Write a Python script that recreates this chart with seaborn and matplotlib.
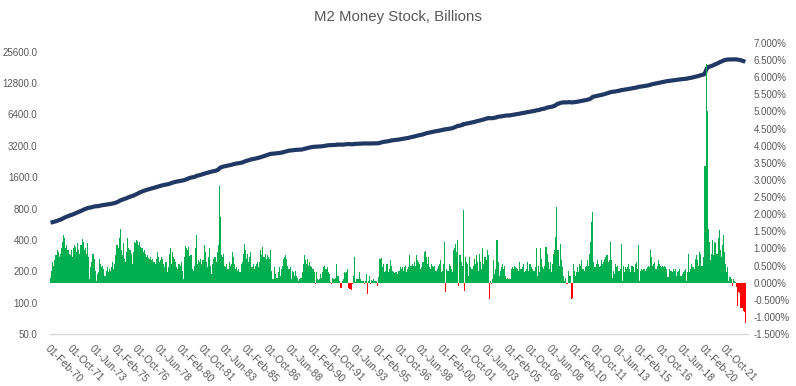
import numpy as np
import pandas as pd
import matplotlib
matplotlib.use("Agg")
import matplotlib.pyplot as plt
from matplotlib.ticker import FixedLocator, FuncFormatter, NullLocator
import seaborn as sns

title = "M2 Money Stock, Billions"
base_level = 586.0  # level before the first monthly change (Jan 1970), billions

# Monthly % change of M2, Feb 1970 .. Dec 1979 (one row per calendar year)
pct_1970s = [
    0.15, 0.35, 0.6, 0.5, 0.65, 0.8, 0.95, 0.9, 0.75, 0.85, 1.0,
    1.2, 1.38, 1.3, 1.0, 1.1, 0.95, 0.85, 0.8, 0.95, 0.75, 1.0, 1.1,
    1.05, 0.9, 1.15, 0.95, 0.85, 1.1, 1.28, 1.2, 0.95, 1.0, 0.85, 1.15,
    0.75, 0.1, 0.45, 0.6, 0.85, 0.7, 0.35, 0.06, 0.25, 0.3, 0.7, 0.55,
    0.45, 0.5, 0.4, 0.2, 0.35, 0.45, 0.3, 0.4, 0.35, 0.45, 0.6, 0.4,
    0.55, 0.8, 1.1, 1.0, 1.3, 1.58, 0.95, 0.8, 1.15, 0.7, 0.6, 0.9,
    1.31, 1.0, 0.94, 0.85, 0.55, 0.9, 1.2, 1.15, 1.25, 1.22, 1.1, 1.2,
    1.05, 1.0, 0.9, 0.95, 0.85, 0.75, 0.8, 0.72, 0.7, 0.75, 0.65, 0.7,
    0.6, 0.55, 0.7, 0.9, 0.75, 0.6, 0.65, 0.75, 0.7, 0.55, 0.45, 0.6,
    0.3, 0.45, 0.85, 1.0, 0.55, 0.9, 0.75, 0.7, 0.6, 0.45, 0.4, 0.55,
]
pct_1980s = [
    0.5, 0.6, 0.35, 0.1, 0.75, 1.08, 1.0, 0.95, 1.05, 0.77, 0.8, 0.4,
    0.35, 0.5, 1.0, 1.38, 0.55, 0.65, 0.6, 0.7, 0.55, 0.65, 1.09, 0.9,
    0.6, 0.45, 0.75, 1.0, 0.5, 0.25, 0.55, 0.7, 0.75, 0.6, 0.9, 1.1,
    2.82, 1.92, 0.8, 0.75, 0.85, 0.5, 0.45, 0.55, 0.4, 0.6, 0.5, 0.55,
    0.9, 0.75, 0.55, 0.4, 0.45, 0.35, 0.4, 0.3, 0.55, 0.6, 0.85, 1.14,
    0.95, 0.7, 0.84, 0.6, 0.75, 0.9, 0.45, 0.55, 0.4, 0.5, 0.55, 0.6,
    0.45, 0.6, 0.94, 0.8, 1.04, 0.75, 0.85, 0.7, 0.8, 0.75, 0.7, 0.94,
    0.35, 0.1, 0.1, 0.45, 0.25, 0.15, 0.3, 0.45, 0.2, 0.4, 0.5, 0.7,
    0.75, 0.8, 0.7, 0.5, 0.4, 0.45, 0.1, 0.35, 0.3, 0.2, 0.35, 0.2,
    0.15, 0.06, 0.1, 0.15, 0.3, 0.55, 0.8, 0.65, 0.55, 0.7, 0.5, 0.6,
]
pct_1990s = [
    0.5, 0.45, 0.4, 0.3, -0.04, 0.3, 0.1, 0.08, 0.1, 0.25, 0.15, 0.3,
    0.45, 0.5, 0.4, 0.45, 0.3, 0.25, 0.01, -0.04, 0.15, 0.12, 0.12, 0.15,
    0.55, 0.2, 0.05, -0.16, -0.16, 0.05, 0.1, 0.3, 0.28, 0.3, 0.4, -0.15,
    -0.2, -0.22, -0.05, 0.2, 0.75, 0.01, 0.1, 0.12, 0.1, 0.3, 0.12, 0.06,
    0.06, -0.04, 0.05, 0.24, -0.33, 0.05, 0.2, -0.05, 0.08, 0.06, 0.1, 0.04,
    0.05, -0.09, 0.16, 0.7, 0.7, 0.72, 0.45, 0.55, 0.3, 0.35, 0.55, 0.3,
    0.4, 0.67, 0.5, 0.35, 0.3, 0.28, 0.32, 0.3, 0.25, 0.35, 0.45, 0.4,
    0.45, 0.35, 0.45, 0.5, 0.3, 0.4, 0.45, 0.82, 0.5, 0.55, 0.5, 0.6,
    0.5, 0.8, 0.65, 0.6, 0.55, 0.4, 0.45, 0.6, 0.9, 0.92, 0.75, 0.55,
    0.75, 0.45, 0.4, 0.55, 0.5, 0.45, 0.5, 0.35, 0.4, 0.5, 0.55, 0.65,
]
pct_2000s = [
    0.3, 0.35, 0.55, 1.18, -0.28, 0.4, 0.35, 0.55, 0.5, 0.4, 0.3, 0.94,
    1.0, 1.14, 0.9, 1.24, -0.09, 0.8, 0.6, 0.5, 2.12, -0.24, 0.75, 0.6,
    0.55, 0.2, 0.75, 0.45, 0.4, 0.5, 0.7, 0.55, 0.8, 0.6, 0.35, 0.84,
    0.6, 0.4, 1.0, 0.55, 0.75, 0.65, 0.94, 0.8, -0.48, 0.05, -0.05, 0.1,
    0.65, 0.25, 0.4, 1.24, 0.6, 0.2, 0.35, 0.45, 0.55, 0.4, 0.5, 0.2,
    0.12, 0.15, 0.1, 0.12, 0.4, 0.45, 0.4, 0.5, 0.45, 0.42, 0.4, 0.35,
    0.6, 0.4, 0.45, 0.55, 0.3, 0.35, 0.4, 0.6, 0.35, 0.55, 0.55, 0.45,
    0.4, 0.35, 0.45, 1.0, 0.2, 0.5, 0.3, 1.0, 0.7, 0.45, 0.4, 0.5,
    1.04, 0.84, 0.6, 0.4, 0.6, 0.3, 0.55, 0.84, 0.94, 1.33, 2.2, 0.94,
    0.5, 1.14, 0.65, 0.45, 0.2, 0.06, 0.15, -0.04, -0.03, 0.35, 0.2, -0.48,
]
pct_2010s = [
    -0.45, 0.55, 0.35, 0.2, 0.3, 0.45, 0.3, 0.55, 0.5, 0.65, 0.4, 0.35,
    0.45, 0.5, 0.65, 0.5, 0.84, 1.18, 1.77, 2.07, 0.6, 0.45, 0.55, 0.65,
    0.55, 0.45, 0.5, 0.65, 0.55, 0.6, 0.7, 0.75, 0.8, 0.6, 0.65, 1.18,
    0.65, 0.15, 0.35, 0.25, 0.55, 0.45, 0.5, 0.35, 0.4, 1.14, 0.06, 0.5,
    0.3, 0.45, 0.4, 0.45, 0.55, 0.4, 0.3, 0.5, 0.45, 0.3, 0.55, 0.6,
    0.4, 1.09, 0.06, 0.35, 0.4, 0.38, 0.4, 0.35, 0.4, 0.45, 0.5, 0.45,
    0.96, 0.74, 0.5, 0.55, 0.6, 0.4, 0.5, 0.65, 0.55, 0.5, 0.45, 0.5,
    0.45, 0.5, 0.45, 0.4, 0.16, 0.4, 0.35, 0.35, 0.3, 0.4, 0.35, 0.4,
    0.2, 0.3, 0.35, 0.4, 0.2, 0.25, 0.3, 0.35, 0.4, 0.06, 0.3, 0.84,
    0.3, 0.4, 0.55, 0.45, 0.4, 0.7, 0.8, 0.65, 0.5, 0.9, 0.84, 0.5,
]
pct_2020s = [
    0.5, 0.74, 3.4, 6.4, 5.0, 1.58, 1.2, 0.65, 0.85, 1.25, 0.8, 1.2,
    1.15, 0.85, 1.3, 1.55, 0.95, 0.75, 1.1, 1.38, 0.9, 0.55, 0.3, 0.45,
    0.06, 0.16, 0.1, -0.09, 0.1, 0.06, 0.02, -0.14, -0.68, -0.28, -0.3, -0.73,
    -0.75, -0.82, -0.85, -1.17,
]

tick_labels = [
    "01-Feb-70", "01-Oct-71", "01-Jun-73", "01-Feb-75", "01-Oct-76", "01-Jun-78",
    "01-Feb-80", "01-Oct-81", "01-Jun-83", "01-Feb-85", "01-Oct-86", "01-Jun-88",
    "01-Feb-90", "01-Oct-91", "01-Jun-93", "01-Feb-95", "01-Oct-96", "01-Jun-98",
    "01-Feb-00", "01-Oct-01", "01-Jun-03", "01-Feb-05", "01-Oct-06", "01-Jun-08",
    "01-Feb-10", "01-Oct-11", "01-Jun-13", "01-Feb-15", "01-Oct-16", "01-Jun-18",
    "01-Feb-20", "01-Oct-21",
]
tick_step = 20  # months between labelled ticks
left_ticks = [50, 100, 200, 400, 800, 1600, 3200, 6400, 12800, 25600]
right_ticks = [-1.5, -1.0, -0.5, 0.0, 0.5, 1.0, 1.5, 2.0, 2.5, 3.0, 3.5,
               4.0, 4.5, 5.0, 5.5, 6.0, 6.5, 7.0]

# ---------------------------------------------------------------- data frame
pct = np.array(pct_1970s + pct_1980s + pct_1990s + pct_2000s + pct_2010s + pct_2020s)
n = len(pct)
month = np.arange(n)
level = base_level * np.cumprod(1 + pct / 100.0)
df = pd.DataFrame({"month": month, "pct": pct, "level": level,
                   "sign": np.where(pct >= 0, "pos", "neg")})

# ---------------------------------------------------------------- styling
sns.set_style("white")
plt.rcParams["font.family"] = ["Liberation Sans", "DejaVu Sans"]
text_col = "#595959"
axis_col = "#D9D9D9"
line_col = "#1F3864"
green = "#00B050"
red = "#FF0000"

W, H = 796, 386
fig = plt.figure(figsize=(W / 100, H / 100), dpi=100)
fig.subplots_adjust(left=50 / W, right=748 / W, bottom=(H - 334) / H, top=(H - 43) / H)
ax = fig.add_subplot(111)
ax2 = ax.twinx()

# line on primary (log2) axis
sns.lineplot(data=df, x="month", y="level", ax=ax, color=line_col,
             linewidth=3.0, solid_capstyle="butt")
ax.set_yscale("log", base=2)
ax.set_ylim(50, 31000)
ax.yaxis.set_major_locator(FixedLocator(left_ticks))
ax.yaxis.set_minor_locator(NullLocator())
ax.yaxis.set_major_formatter(FuncFormatter(lambda v, p: f"{v:.1f}"))

# bars on secondary (%) axis
sns.barplot(data=df, x="month", y="pct", hue="sign",
            palette={"pos": green, "neg": red}, native_scale=True,
            dodge=False, width=1.0, saturation=1, errorbar=None,
            linewidth=0, antialiased=False, legend=False, ax=ax2)
ax2.set_ylim(-1.5, 7.0)
ax2.yaxis.set_major_locator(FixedLocator(right_ticks))
ax2.yaxis.set_major_formatter(FuncFormatter(lambda v, p: f"{v:.3f}%"))

# x axis
ax.set_xlim(-0.5, n + 1.5)
ax.xaxis.set_major_locator(FixedLocator([i * tick_step for i in range(len(tick_labels))]))
ax.xaxis.set_minor_locator(NullLocator())
ax.set_xticklabels(tick_labels, rotation=-45, ha="left", va="top",
                   rotation_mode="anchor")
ax.set_xlabel("")
ax.set_ylabel("")
ax2.set_ylabel("")

for a in (ax, ax2):
    for s in ("left", "right", "top", "bottom"):
        a.spines[s].set_visible(False)
ax.spines["bottom"].set_visible(True)
ax.spines["bottom"].set_color(axis_col)
ax.spines["bottom"].set_linewidth(1.0)

ax.tick_params(axis="x", length=4, width=1, color=axis_col, direction="out",
               labelsize=7.5, labelcolor=text_col, pad=3)
ax.tick_params(axis="y", length=0, labelsize=7, labelcolor=text_col, pad=9)
ax2.tick_params(axis="y", length=0, labelsize=7, labelcolor=text_col, pad=4)
ax.grid(False)
ax2.grid(False)

fig.text(0.5, 1 - 17 / H, title, ha="center", va="center",
         fontsize=10.8, color=text_col)

fig.savefig("out.png", dpi=100)
